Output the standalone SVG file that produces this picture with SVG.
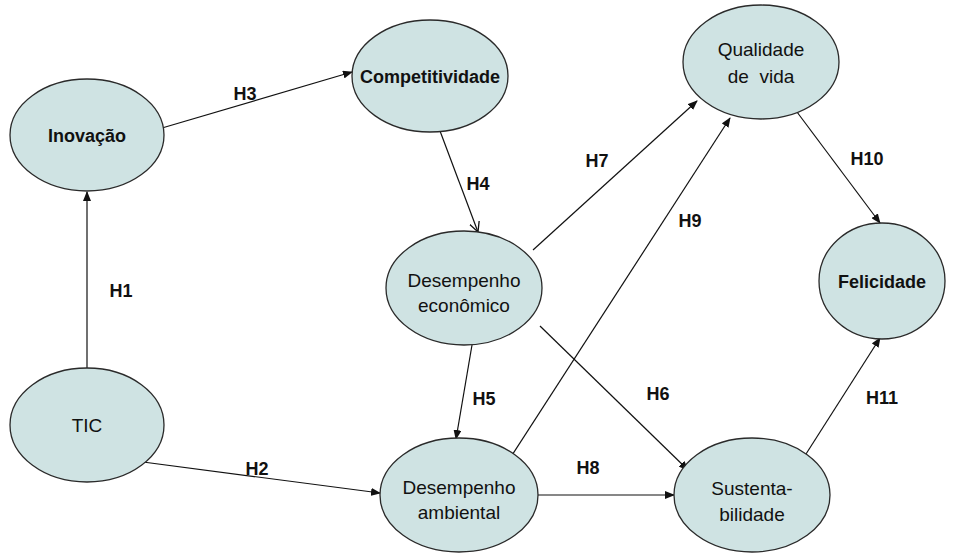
<svg xmlns="http://www.w3.org/2000/svg" width="960" height="556" viewBox="0 0 960 556">
<defs>
<marker id="arr" markerWidth="10" markerHeight="8" refX="9" refY="4" orient="auto" markerUnits="userSpaceOnUse">
<path d="M0,0 L10,4 L0,8 Z" fill="#111"/>
</marker>
<marker id="open" markerWidth="12" markerHeight="12" refX="10" refY="6" orient="auto" markerUnits="userSpaceOnUse">
<path d="M0,1 L10,6 L0,11" fill="none" stroke="#111" stroke-width="1.3"/>
</marker>
<style>
.n ellipse{fill:#cfe3e3;stroke:#2a2a2a;stroke-width:1.3}
.n text{font-family:"Liberation Sans",Arial,sans-serif;font-size:19px;fill:#111;text-anchor:middle;white-space:pre}
.n text.b{font-weight:bold;font-size:18px}
.c line{stroke:#111;stroke-width:1.2}
.l{font-family:"Liberation Sans",Arial,sans-serif;font-size:18px;fill:#111;font-weight:bold;text-anchor:middle}
</style>
</defs>
<rect width="960" height="556" fill="#fff"/>
<g id="connectors" class="c">
<line x1="87" y1="368" x2="87" y2="192" marker-end="url(#arr)"/>
<line x1="162" y1="128" x2="352" y2="72" marker-end="url(#arr)"/>
<line x1="143" y1="462" x2="380" y2="493" marker-end="url(#arr)"/>
<line x1="440" y1="131" x2="478" y2="232" marker-end="url(#open)"/>
<line x1="533" y1="250" x2="697" y2="101" marker-end="url(#arr)"/>
<line x1="507" y1="463" x2="730" y2="118" marker-end="url(#arr)"/>
<line x1="472" y1="345" x2="456" y2="439" marker-end="url(#arr)"/>
<line x1="540" y1="326" x2="688" y2="470" marker-end="url(#arr)"/>
<line x1="538" y1="495" x2="674" y2="495" marker-end="url(#arr)"/>
<line x1="794" y1="108" x2="880" y2="223" marker-end="url(#arr)"/>
<line x1="806" y1="454" x2="880" y2="338" marker-end="url(#arr)"/>
</g>
<g id="labels">
<text class="l" x="121" y="297">H1</text>
<text class="l" x="245" y="100">H3</text>
<text class="l" x="257" y="475" font-weight="normal">H2</text>
<text class="l" x="478" y="190">H4</text>
<text class="l" x="597" y="167">H7</text>
<text class="l" x="690" y="227">H9</text>
<text class="l" x="484" y="405">H5</text>
<text class="l" x="658" y="400">H6</text>
<text class="l" x="588" y="474">H8</text>
<text class="l" x="867" y="165">H10</text>
<text class="l" x="882" y="404">H11</text>
</g>
<g id="inovacao" class="n"><ellipse cx="87" cy="135" rx="77" ry="56"/><text class="b" x="87" y="142">Inovação</text></g>
<g id="competitividade" class="n"><ellipse cx="430" cy="76" rx="78" ry="56"/><text class="b" x="430" y="83">Competitividade</text></g>
<g id="qualidade" class="n"><ellipse cx="761" cy="62" rx="78" ry="57"/><text x="761" y="56">Qualidade</text><text x="761" y="83">de  vida</text></g>
<g id="desempenho-economico" class="n"><ellipse cx="464" cy="288" rx="78" ry="57"/><text x="464" y="287">Desempenho</text><text x="464" y="312">econômico</text></g>
<g id="felicidade" class="n"><ellipse cx="882" cy="281" rx="63" ry="58"/><text class="b" x="882" y="288">Felicidade</text></g>
<g id="tic" class="n"><ellipse cx="87" cy="425" rx="77" ry="57"/><text x="87" y="432">TIC</text></g>
<g id="desempenho-ambiental" class="n"><ellipse cx="459" cy="495" rx="79" ry="57"/><text x="459" y="494">Desempenho</text><text x="459" y="519">ambiental</text></g>
<g id="sustentabilidade" class="n"><ellipse cx="752" cy="495" rx="78" ry="57"/><text x="752" y="495">Sustenta-</text><text x="752" y="521">bilidade</text></g>
</svg>
